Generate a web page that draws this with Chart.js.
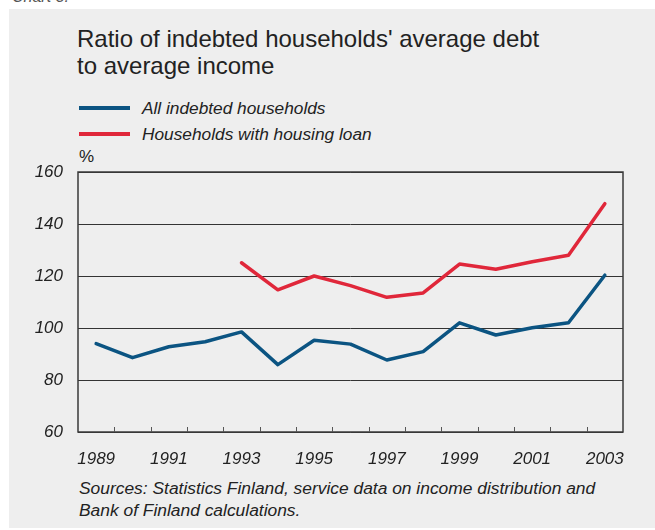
<!DOCTYPE html>
<html>
<head>
<meta charset="utf-8">
<script src="https://cdn.jsdelivr.net/npm/chart.js@4/dist/chart.umd.min.js"></script>
<style>
  html, body { margin: 0; padding: 0; background: #ffffff; }
  body { width: 655px; height: 530px; position: relative; overflow: hidden;
         font-family: "Liberation Sans", Arial, sans-serif; color: #222; }
  #panel { position: absolute; left: 9px; top: 9px; width: 646px; height: 519px; background: #eeeeee; }
  #wrap { position: absolute; left: 0; top: 0; width: 655px; height: 530px; }
  .txt { position: absolute; white-space: nowrap; }
  .it { font-style: italic; }
  .key { position: absolute; height: 4px; width: 51px; left: 79px; }
  .lg { left: 142px; font-size: 17.3px; line-height: 20px; }
  #chartno { left: 12px; top: -12px; font-size: 16px; color: #555; }
  #title { left: 77px; top: 25px; font-size: 24px; line-height: 27px; color: #222; }
  #unit { left: 79px; top: 147px; font-size: 17px; line-height: 20px; }
  #src { left: 79px; top: 477px; font-size: 17.4px; line-height: 22px; }
</style>
</head>
<body>
<div id="panel"></div>
<div class="txt it" id="chartno">Chart 3.</div>
<div class="txt" id="title">Ratio of indebted households' average debt<br>to average income</div>
<div class="key" style="top:106px;background:#0b5482"></div>
<div class="txt it lg" style="top:98px">All indebted households</div>
<div class="key" style="top:132px;background:#e0273a"></div>
<div class="txt it lg" style="top:124px">Households with housing loan</div>
<div class="txt" id="unit">%</div>
<div class="txt it" id="src">Sources: Statistics Finland, service data on income distribution and<br>Bank of Finland calculations.</div>
<div id="wrap"><canvas id="c" width="655" height="530"></canvas></div>
<script>
// Years on the horizontal axis
const years = ['1989','1990','1991','1992','1993','1994','1995','1996','1997','1998','1999','2000','2001','2002','2003'];
// Debt-to-income ratio, %, all indebted households
const allIndebted = [94.0, 88.6, 92.8, 94.7, 98.5, 85.9, 95.3, 93.8, 87.7, 90.9, 102.0, 97.3, 100.1, 102.0, 120.3];
// Debt-to-income ratio, %, households with a housing loan (series starts 1993)
const housingLoan = [null, null, null, null, 125.1, 114.7, 120.0, 116.3, 111.8, 113.5, 124.6, 122.6, 125.5, 128.0, 147.8];
// Value axis
const yMin = 60, yMax = 160, yStep = 20;

const FONT = "'Liberation Sans', Arial, sans-serif";

// Plot frame plus short inward marks between the years
const framePlugin = {
  id: 'frame',
  beforeDatasetsDraw(chart) {
    const { ctx, chartArea: a, scales: { x } } = chart;
    ctx.save();
    ctx.strokeStyle = '#3a3a3a';
    ctx.lineWidth = 1.5;
    ctx.strokeRect(a.left, a.top, a.right - a.left, a.bottom - a.top);
    ctx.lineWidth = 1;
    ctx.strokeStyle = '#555';
    for (let i = 1; i < years.length; i++) {
      const px = Math.round((x.getPixelForValue(i - 1) + x.getPixelForValue(i)) / 2) + 0.5;
      ctx.beginPath();
      ctx.moveTo(px, a.bottom);
      ctx.lineTo(px, a.bottom - 5);
      ctx.stroke();
    }
    ctx.restore();
  }
};

new Chart(document.getElementById('c'), {
  type: 'line',
  data: {
    labels: years,
    datasets: [
      { label: 'All indebted households', data: allIndebted, borderColor: '#0b5482',
        borderWidth: 3.5, pointRadius: 0, tension: 0, borderCapStyle: 'round', borderJoinStyle: 'round' },
      { label: 'Households with housing loan', data: housingLoan, borderColor: '#e0273a',
        borderWidth: 3.5, pointRadius: 0, tension: 0, borderCapStyle: 'round', borderJoinStyle: 'round', spanGaps: false }
    ]
  },
  options: {
    responsive: false,
    animation: false,
    devicePixelRatio: 1,
    layout: { padding: { left: 0, top: 172, right: 32, bottom: 0 } },
    plugins: { legend: { display: false }, title: { display: false }, tooltip: { enabled: false } },
    scales: {
      x: {
        type: 'category',
        offset: true,
        grid: { display: false },
        border: { display: false },
        ticks: {
          autoSkip: false, maxRotation: 0, padding: 9,
          color: '#222', font: { family: FONT, size: 17, style: 'italic' },
          callback: (v, i) => (i % 2 === 0 ? years[i] : '')
        },
        afterFit: s => { s.height = 98; }
      },
      y: {
        min: yMin, max: yMax,
        grid: { color: '#333', lineWidth: 1, drawTicks: false },
        border: { display: false },
        ticks: {
          stepSize: yStep, padding: 15,
          color: '#222', font: { family: FONT, size: 17, style: 'italic' }
        },
        afterFit: s => { s.width = 78; }
      }
    }
  },
  plugins: [framePlugin]
});
</script>
</body>
</html>
